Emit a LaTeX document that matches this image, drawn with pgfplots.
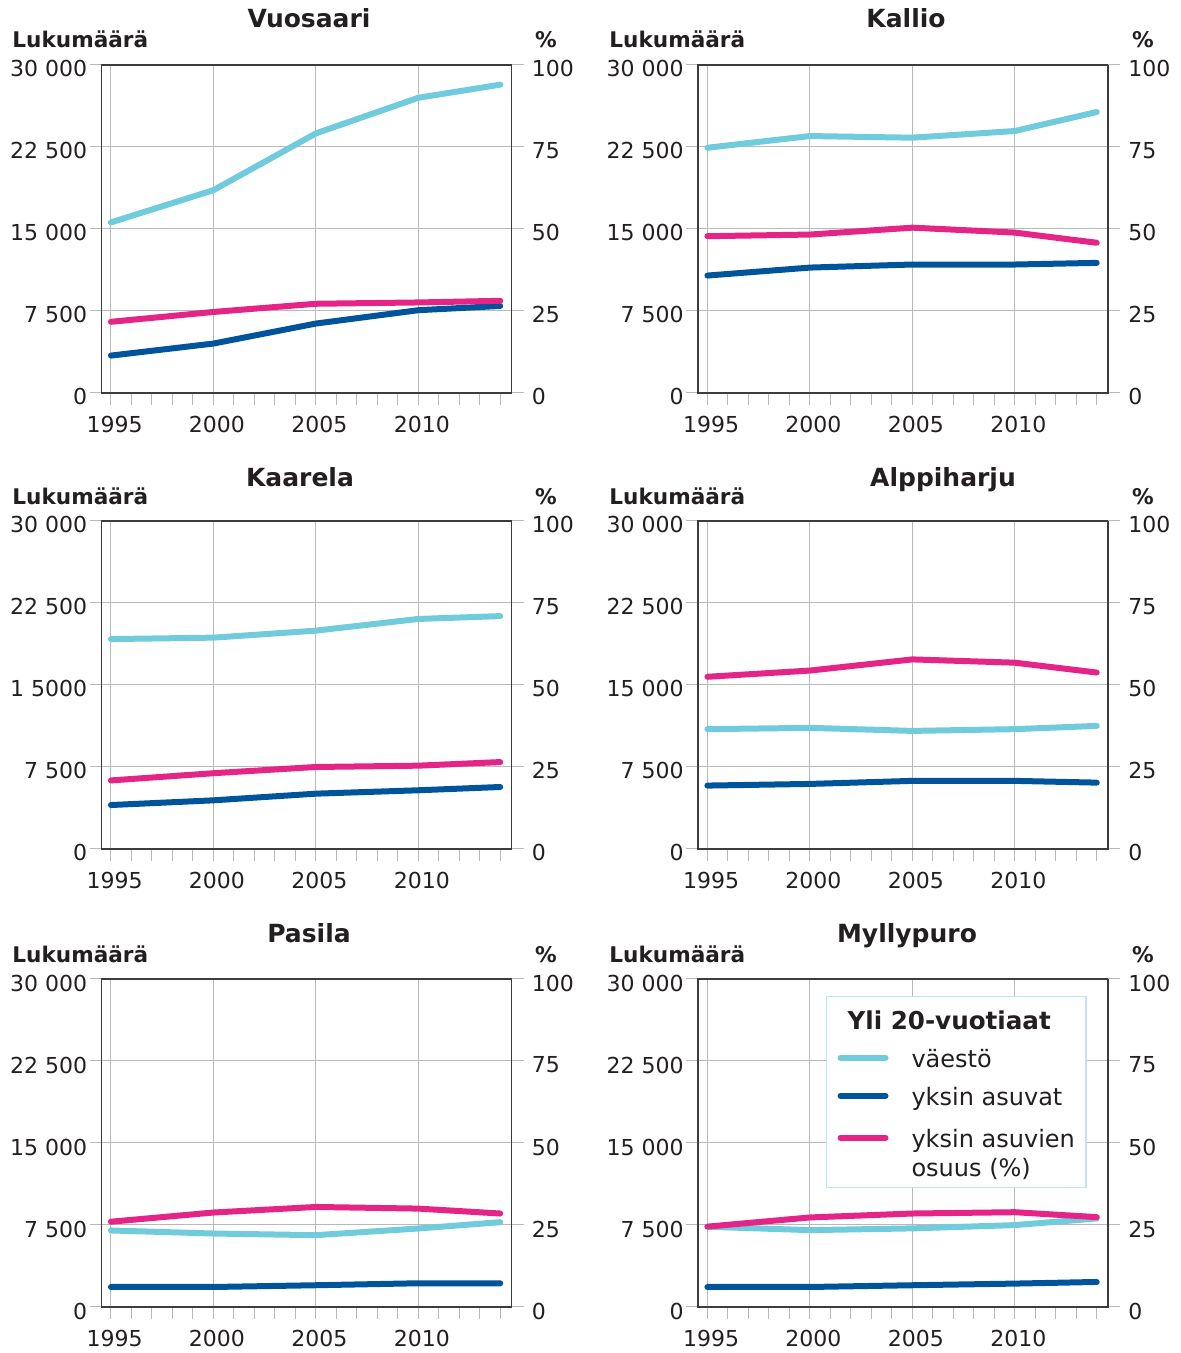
\documentclass[border=0pt]{standalone}
\usepackage{fontspec}
\setmainfont{DejaVu Sans}
\usepackage{pgfplots}
\pgfplotsset{compat=1.18}
\usepackage{pgfplotstable}

\definecolor{lb}{RGB}{112,203,220}
\definecolor{db}{RGB}{0,84,155}
\definecolor{pk}{RGB}{228,36,135}
\definecolor{gridc}{RGB}{185,185,185}
\definecolor{framec}{RGB}{60,60,60}
\definecolor{txt}{RGB}{35,31,32}
\definecolor{legb}{RGB}{190,228,238}

\pgfplotstableread{
year v y o
1995 15600 3420 21.7
2000 18550 4520 24.7
2005 23740 6350 27.2
2010 27000 7570 27.6
2014 28200 7960 28.1
}\vuosaari
\pgfplotstableread{
year v y o
1995 22430 10740 47.8
2000 23500 11470 48.3
2005 23350 11750 50.4
2010 23960 11750 48.9
2014 25700 11900 45.8
}\kallio
\pgfplotstableread{
year v y o
1995 19200 4020 20.9
2000 19330 4450 23.1
2005 19970 5060 25.0
2010 21040 5370 25.4
2014 21300 5670 26.5
}\kaarela
\pgfplotstableread{
year v y o
1995 10960 5800 52.5
2000 11080 5950 54.4
2005 10800 6230 57.8
2010 10960 6230 56.8
2014 11260 6070 53.8
}\alppiharju
\pgfplotstableread{
year v y o
1995 7000 1830 26.0
2000 6720 1830 28.8
2005 6570 1990 30.5
2010 7180 2170 30.0
2014 7760 2170 28.5
}\pasila
\pgfplotstableread{
year v y o
1995 7340 1830 24.5
2000 7030 1830 27.3
2005 7190 1990 28.5
2010 7490 2140 28.9
2014 8100 2290 27.4
}\myllypuro

\newcommand\tickfont{\fontsize{11}{13}\selectfont}
\newcommand\titlefont{\fontsize{12.5}{15}\selectfont\bfseries}
\newcommand\labfont{\fontsize{10.8}{13}\selectfont\bfseries}

% legend line samples
\newsavebox\lbline \newsavebox\dbline \newsavebox\pkline
\sbox\lbline{\tikz[baseline={(0,-5pt)}]{\path (0,-1.5pt) (25.5pt,1.5pt);\draw[lb,line width=3pt,line cap=round] (1.5pt,0)--(24pt,0);}}
\sbox\dbline{\tikz[baseline={(0,-5pt)}]{\path (0,-1.5pt) (25.5pt,1.5pt);\draw[db,line width=3pt,line cap=round] (1.5pt,0)--(24pt,0);}}
\sbox\pkline{\tikz[baseline={(0,-5pt)}]{\path (0,-1.5pt) (25.5pt,1.5pt);\draw[pk,line width=3pt,line cap=round] (1.5pt,0)--(24pt,0);}}

\pgfplotsset{
  common/.style={
    anchor=south west, scale only axis, width=205pt, height=164pt,
    xmin=1994.54, xmax=2014.55,
    scaled y ticks=false, scaled x ticks=false,
    tick align=outside,
    major tick length=6pt, minor tick length=6pt,
    major tick style={draw=gridc, line width=0.5pt},
    minor tick style={draw=gridc, line width=0.5pt},
    axis line style={draw=framec, line width=0.7pt},
    ticklabel style={font=\tickfont, text=txt},
  },
  lpanel/.style={
    common,
    ymin=0, ymax=30000,
    xtick={1995,2000,2005,2010}, xticklabels={1995,2000,2005,2010},
    minor xtick={1995,1996,...,2014},
    ytick={0,7500,15000,22500,30000},
    xtick pos=bottom, ytick pos=left,
    grid=major, major grid style={draw=gridc, line width=0.5pt},
    yticklabel style={inner xsep=1pt, yshift=-2pt},
    xticklabel style={inner ysep=5.5pt, xshift=1.8pt},
  },
  rpanel/.style={
    common,
    ymin=0, ymax=100,
    axis x line=none, axis y line*=right,
    ytick={0,25,50,75,100}, yticklabels={0,25,50,75,100},
    yticklabel style={inner xsep=4pt, yshift=-2pt},
  },
  serie/.style={line width=3pt, line cap=round, line join=round},
}

\newcommand\panelL[4]{%
  \begin{axis}[lpanel, at={(#1,#2)}, yticklabels={#4}]
    \addplot[lb, serie] table[x=year, y=v] {#3};
    \addplot[db, serie] table[x=year, y=y] {#3};
  \end{axis}}
\newcommand\panelR[3]{%
  \begin{axis}[rpanel, at={(#1,#2)}]
    \addplot[pk, serie] table[x=year, y=o] {#3};
  \end{axis}}

\begin{document}
\begin{tikzpicture}
\useasboundingbox (0,0) rectangle (590pt,676.5pt);

% Row 1
\panelL{50.75pt}{480pt}{\vuosaari}{0,7 500,15 000,22 500,30 000}
\panelR{50.75pt}{480pt}{\vuosaari}
\panelL{349pt}{480pt}{\kallio}{0,7 500,15 000,22 500,30 000}
\panelR{349pt}{480pt}{\kallio}
% Row 2
\panelL{50.75pt}{252pt}{\kaarela}{0,7 500,1 5000,22 500,30 000}
\panelR{50.75pt}{252pt}{\kaarela}
\panelL{349pt}{252pt}{\alppiharju}{0,7 500,15 000,22 500,30 000}
\panelR{349pt}{252pt}{\alppiharju}
% Row 3
\panelL{50.75pt}{23pt}{\pasila}{0,7 500,15 000,22 500,30 000}
\panelR{50.75pt}{23pt}{\pasila}
\panelL{349pt}{23pt}{\myllypuro}{0,7 500,15 000,22 500,30 000}
\begin{axis}[rpanel, at={(349pt,23pt)}, clip=false]
  \addplot[pk, serie] table[x=year, y=o] {\myllypuro};
  \node[anchor=north west, draw=legb, line width=0.6pt, fill=white,
        inner xsep=5.5pt, inner ysep=1pt, text=txt,
        font=\fontsize{12}{14.5}\selectfont]
    at (rel axis cs:0.312,0.948) {%
    \begin{tabular}{@{}l@{\hspace{11.5pt}}l@{}}
      \multicolumn{2}{@{\hspace{5pt}}l@{}}{\fontsize{12.3}{14.5}\selectfont\bfseries\rule[-5pt]{0pt}{20.5pt}Yli 20-vuotiaat}\\
      \usebox\lbline & \rule[-5pt]{0pt}{19pt}väestö\\
      \usebox\dbline & \rule[-5pt]{0pt}{19pt}yksin asuvat\\
      \usebox\pkline & \rule{0pt}{16pt}yksin asuvien\\
      & osuus (\%)
    \end{tabular}};
\end{axis}

% Titles and axis captions
\foreach \tx/\ty/\tt in {154.5pt/662.5pt/Vuosaari, 453pt/662.5pt/Kallio,
    150pt/433pt/Kaarela, 471.5pt/433pt/Alppiharju,
    154.5pt/205pt/Pasila, 453.5pt/205pt/Myllypuro}{
  \node[anchor=base, font=\titlefont, text=txt, inner sep=0pt] at (\tx,\ty) {\tt};
}
\foreach \lx/\px/\ly in {6pt/273pt/652.5pt, 304.5pt/571.5pt/652.5pt,
    6pt/273pt/424pt, 304.5pt/571.5pt/424pt,
    6pt/273pt/195pt, 304.5pt/571.5pt/195pt}{
  \node[anchor=base west, font=\labfont, text=txt, inner sep=0pt] at (\lx,\ly) {Lukumäärä};
  \node[anchor=base, font=\labfont, text=txt, inner sep=0pt] at (\px,\ly) {\%};
}
\end{tikzpicture}
\end{document}
